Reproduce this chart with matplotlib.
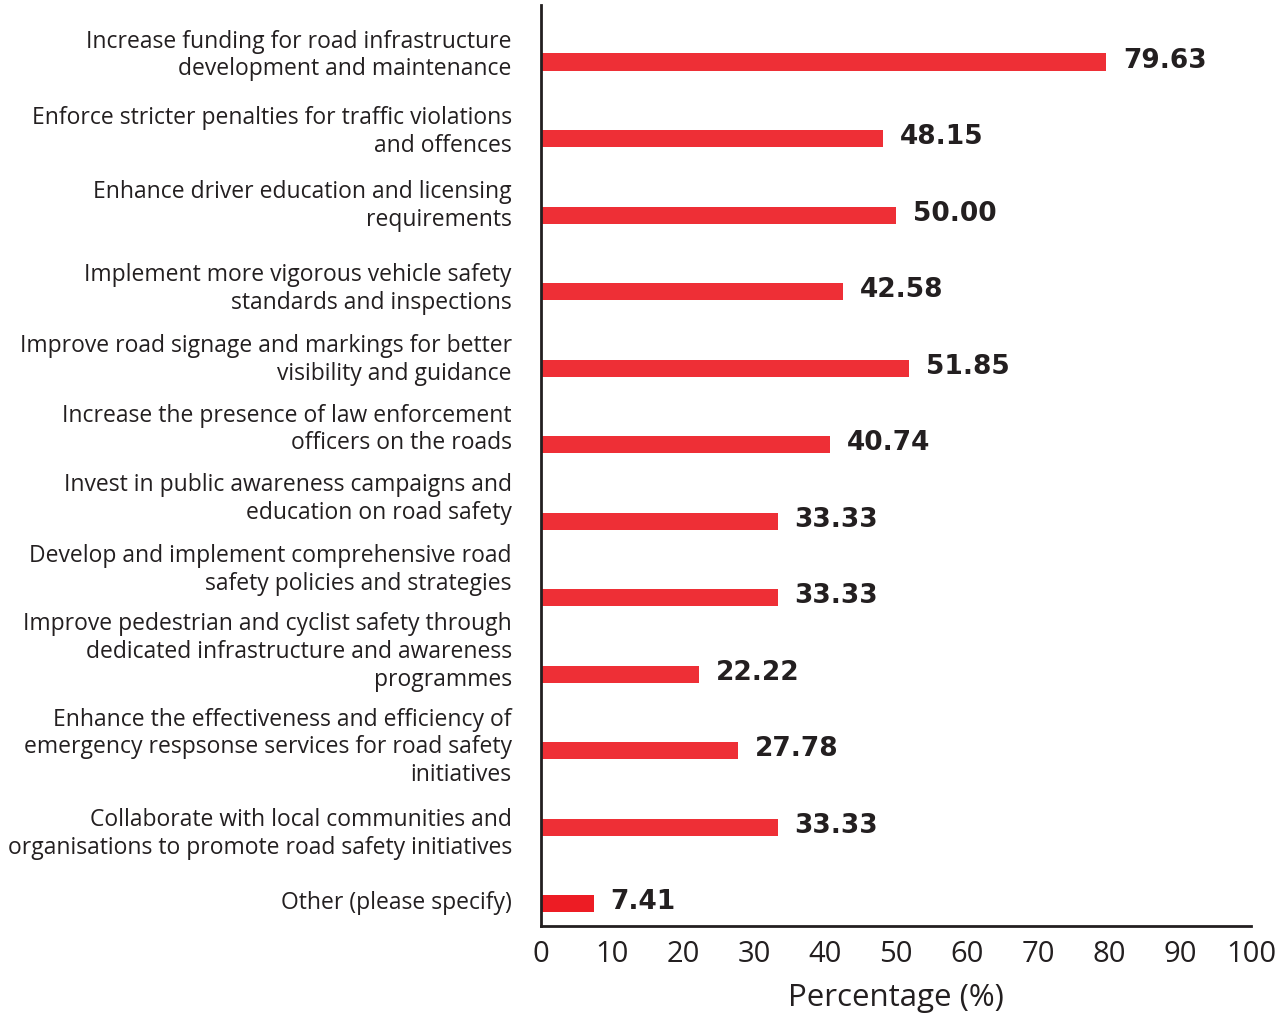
import numpy as np
import matplotlib
import matplotlib.pyplot as plt

matplotlib.use("Agg")
plt.rcParams["font.family"] = ["Open Sans", "DejaVu Sans"]

categories = [
    "Increase funding for road infrastructure\ndevelopment and maintenance",
    "Enforce stricter penalties for traffic violations\nand offences",
    "Enhance driver education and licensing\nrequirements",
    "Implement more vigorous vehicle safety\nstandards and inspections",
    "Improve road signage and markings for better\nvisibility and guidance",
    "Increase the presence of law enforcement\nofficers on the roads",
    "Invest in public awareness campaigns and\neducation on road safety",
    "Develop and implement comprehensive road\nsafety policies and strategies",
    "Improve pedestrian and cyclist safety through\ndedicated infrastructure and awareness\nprogrammes",
    "Enhance the effectiveness and efficiency of\nemergency respsonse services for road safety\ninitiatives",
    "Collaborate with local communities and\norganisations to promote road safety initiatives",
    "Other (please specify)",
]
values = [79.63, 48.15, 50.00, 42.58, 51.85, 40.74, 33.33, 33.33, 22.22, 27.78, 33.33, 7.41]
xticks = [0, 10, 20, 30, 40, 50, 60, 70, 80, 90, 100]

# vertical shift of each category label relative to its bar (in bar slots)
label_shift = [-0.085, -0.085, -0.12, -0.035, -0.105, -0.2, -0.29, -0.36, -0.29, -0.045, 0.09, -0.015]

red = "#EE2F36"
ink = "#231F20"

fig = plt.figure(figsize=(12.83, 10.14), dpi=100)
ax = fig.add_axes([0.4217, 0.0868, 0.5533, 0.9082])

pos = np.arange(len(values))
colors = [red] * (len(values) - 1) + ["#ED1C24"]
ax.barh(pos, values, height=0.225, color=colors, zorder=2)

for y, v in zip(pos, values):
    ax.annotate(f"{v:.2f}", (v, y), xytext=(12, 1), textcoords="offset points",
                ha="left", va="center", fontsize=19, fontweight="bold",
                family="DejaVu Sans", color=ink)

for y, name, dy in zip(pos, categories, label_shift):
    ax.annotate(name, (0, y + dy), xytext=(-21, 0), textcoords="offset points",
                ha="right", va="center", fontsize=16.5, color=ink,
                linespacing=1.2, annotation_clip=False)

ax.set_ylim(len(values) - 1 + 0.29, -0.745)
ax.set_xlim(0, 100)
ax.set_xticks(xticks)
ax.set_xticklabels([str(t) for t in xticks], fontsize=21, color=ink)
ax.tick_params(axis="x", length=0, pad=10)
ax.set_yticks([])
ax.set_xlabel("Percentage (%)", fontsize=22.5, color=ink, labelpad=10)

for side in ("top", "right"):
    ax.spines[side].set_visible(False)
for side in ("left", "bottom"):
    ax.spines[side].set_color(ink)
    ax.spines[side].set_linewidth(2)

fig.savefig("out.png", dpi=100)
